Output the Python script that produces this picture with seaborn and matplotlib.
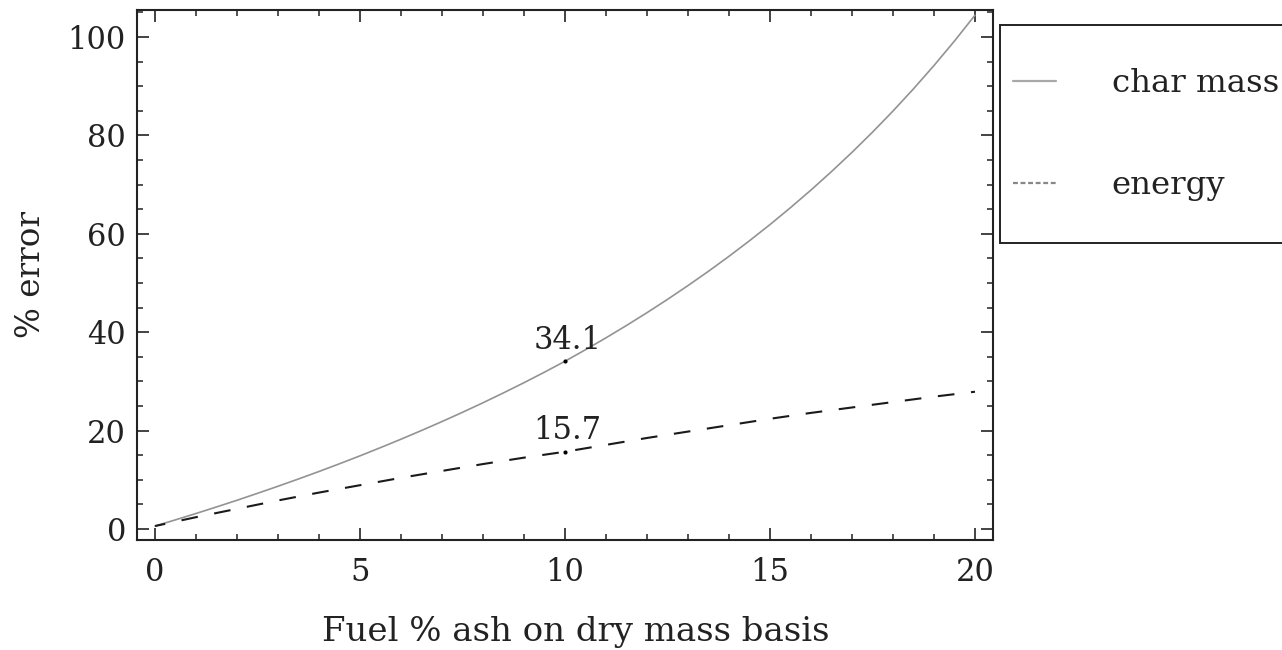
import matplotlib
matplotlib.use("Agg")
import matplotlib.pyplot as plt
from matplotlib.lines import Line2D
from matplotlib.patches import Rectangle
from matplotlib.ticker import MultipleLocator
import seaborn as sns

# ---- data ----
ash_pct_char = [0, 0.5, 1, 1.5, 2, 2.5, 3, 3.5, 4, 4.5, 5, 5.5, 6, 6.5, 7, 7.5, 8, 8.5, 9, 9.5,
                10, 10.5, 11, 11.5, 12, 12.5, 13, 13.5, 14, 14.5, 15, 15.5, 16, 16.5, 17, 17.5,
                18, 18.5, 19, 19.5, 20]
char_mass_err = [0.6, 1.86, 3.15, 4.48, 5.84, 7.25, 8.69, 10.17, 11.69, 13.26, 14.87, 16.54,
                 18.25, 20.02, 21.84, 23.72, 25.66, 27.67, 29.74, 31.88, 34.1, 36.44, 38.86,
                 41.37, 43.97, 46.67, 49.48, 52.39, 55.43, 58.59, 61.88, 65.32, 68.9, 72.65,
                 76.56, 80.66, 84.96, 89.47, 94.21, 99.19, 104.44]
ash_pct_energy = [0, 1, 2, 3, 4, 5, 6, 7, 8, 9, 10, 11, 12, 13, 14, 15, 16, 17, 18, 19, 20]
energy_err = [0.6, 2.4, 4.1, 5.8, 7.4, 8.9, 10.4, 11.8, 13.2, 14.5, 15.7,
              17.1, 18.5, 19.8, 21.1, 22.4, 23.6, 24.7, 25.8, 26.9, 27.9]
marked_x = [10, 10]
marked_y = [34.1, 15.7]
marked_labels = ["34.1", "15.7"]
series_names = ["char mass", "energy"]

sns.set_theme(style="ticks")
plt.rcParams['font.family'] = ['DejaVu Serif']

W, H = 1282, 650
fig = plt.figure(figsize=(W / 100, H / 100), dpi=100)
ax = fig.add_axes([137 / W, 1 - 540 / H, (993 - 137) / W, (540 - 10) / H])

sns.lineplot(x=ash_pct_char, y=char_mass_err, ax=ax, color='#939393', linewidth=1.2)
sns.lineplot(x=ash_pct_energy, y=energy_err, ax=ax, color='#1a1a1a', linewidth=1.5,
             linestyle=(3.0, (8.0, 8.0)))
ax.scatter(marked_x, marked_y, s=9, color='black', zorder=5, linewidths=0)
for mx, my, lab in zip(marked_x, marked_y, marked_labels):
    ax.annotate(lab, (mx, my), xytext=(2, 4), textcoords='offset points',
                ha='center', va='bottom', fontsize=22, color='#222222')

ax.set_xlim(-0.44, 20.44)
ax.set_ylim(-2.24, 105.5)
ax.xaxis.set_major_locator(MultipleLocator(5))
ax.xaxis.set_minor_locator(MultipleLocator(1))
ax.yaxis.set_major_locator(MultipleLocator(20))
ax.yaxis.set_minor_locator(MultipleLocator(5))
ax.tick_params(which='both', direction='in', top=True, right=True,
               labelsize=22, colors='#222222')
ax.tick_params(which='major', length=8.5, width=1.2)
ax.tick_params(axis='x', which='major', pad=12)
ax.tick_params(axis='y', which='major', pad=8)
ax.tick_params(which='minor', length=4.5, width=1.1)
for sp in ax.spines.values():
    sp.set_linewidth(1.5)
    sp.set_color('#222222')

ax.set_xlabel("Fuel % ash on dry mass basis", fontsize=24.5, color='#222222')
ax.xaxis.set_label_coords((576 - 137) / 856, -0.144)
ax.set_ylabel("% error", fontsize=23.5, labelpad=15, color='#222222')

# legend box
fig.patches.append(Rectangle((1000 / W, 1 - 243 / H), 320 / W, 218 / H,
                             transform=fig.transFigure, facecolor='white',
                             edgecolor='#222222', linewidth=1.4, clip_on=False))
handles = [Line2D([], [], color='#a8a8a8', linewidth=1.6),
           Line2D([], [], color='#888888', linewidth=1.6, linestyle=(0, (2.2, 1.2)))]
fig.legend(handles, series_names, loc='upper left',
           bbox_to_anchor=(1013 / W, 1 - 68 / H), frameon=False,
           fontsize=23.3, borderpad=0, borderaxespad=0, handlelength=1.33,
           handletextpad=1.72, labelspacing=2.2, labelcolor='#222222')

fig.savefig("out.png", dpi=100)
